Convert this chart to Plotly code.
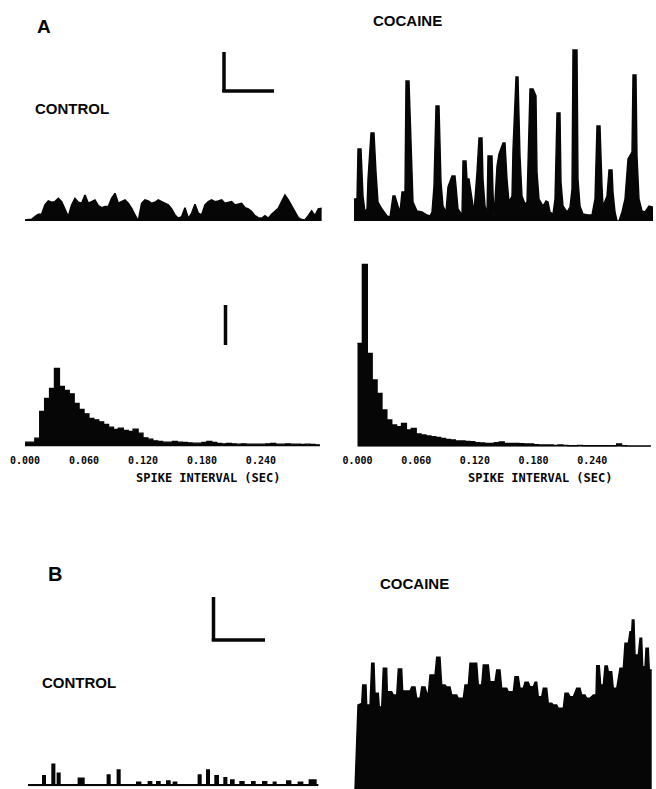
import plotly.graph_objects as go

W, H = 656, 789

# ---------------- data ----------------
# A, control: firing-rate histogram (counts per bin, arbitrary units)
ctrlA_rate = [3, 4, 5, 13, 20, 20, 48, 60, 56, 58,
              68, 58, 33, 13, 48, 68, 56, 53, 78, 53,
              58, 63, 46, 40, 43, 43, 68, 83, 53, 58,
              63, 53, 38, 18, 0, 53, 63, 60, 53, 56,
              63, 58, 53, 48, 36, 18, 8, 13, 40, 8,
              23, 50, 23, 18, 48, 58, 63, 58, 60, 63,
              53, 56, 58, 48, 50, 53, 40, 36, 28, 16,
              10, 8, 16, 8, 20, 30, 38, 58, 78, 63,
              46, 26, 10, 4, 3, 16, 30, 16, 36, 38]

# A, cocaine: firing-rate record (time, count)
cocA_t = [4, 7, 8, 11, 13, 15, 17, 18, 21, 24, 26, 28, 32, 37, 40, 43, 45, 47, 48, 50,
          52, 55, 56, 59, 62, 63, 67, 72, 77, 80, 82, 84, 86, 89, 91, 93, 96, 98, 102, 105,
          106, 108, 112, 113, 116, 117, 119, 122, 124, 127, 129, 132, 133, 135, 137, 138, 142, 143, 144, 147,
          149, 153, 155, 157, 159, 162, 163, 166, 168, 170, 172, 175, 177, 180, 183, 186, 187, 189, 193, 196,
          198, 200, 203, 205, 207, 210, 211, 213, 217, 220, 222, 223, 227, 228, 230, 233, 238, 242, 245, 247,
          250, 252, 253, 257, 259, 262, 263, 265, 267, 269, 272, 275, 278, 282, 283, 286, 287, 289, 292, 295,
          297, 299, 302, 303]
cocA_v = [22, 22, 72, 72, 25, 9, 12, 42, 88, 88, 49, 19, 12, 5, 4, 25, 25, 17, 15, 9,
          29, 29, 140, 140, 55, 19, 10, 9, 6, 5, 9, 35, 115, 115, 39, 15, 9, 34, 45, 45,
          35, 12, 6, 60, 60, 42, 42, 22, 9, 49, 83, 83, 42, 15, 7, 65, 65, 29, 3, 55,
          67, 78, 78, 42, 19, 25, 72, 144, 144, 65, 25, 17, 19, 132, 132, 125, 49, 22, 15, 20,
          19, 9, 7, 22, 108, 108, 39, 15, 9, 14, 32, 171, 171, 42, 15, 7, 6, 6, 22, 95,
          95, 35, 15, 25, 51, 51, 29, 9, 0, 0, 9, 22, 62, 69, 146, 146, 65, 22, 10, 9,
          12, 15, 14, 14]

# Interval histograms: 5 ms bins from 0.000 to 0.300 s
bin_w = 0.005
ctrlA_isi = [13, 13, 25, 105, 144, 174, 234, 180, 168, 158,
             129, 111, 98, 84, 80, 74, 66, 58, 51, 55,
             48, 45, 52, 40, 26, 22, 17, 15, 13, 13,
             15, 13, 12, 11, 10, 10, 12, 15, 12, 9,
             8, 9, 8, 7, 8, 7, 7, 7, 7, 8,
             9, 7, 7, 8, 7, 7, 6, 7, 6, 5]
cocA_isi = [310, 547, 280, 200, 160, 110, 80, 65, 60, 70,
            50, 55, 38, 35, 32, 30, 28, 25, 22, 20,
            17, 17, 16, 15, 12, 11, 10, 10, 12, 14,
            10, 10, 10, 9, 8, 8, 6, 5, 5, 5,
            4, 5, 4, 3, 3, 4, 3, 3, 3, 3,
            3, 3, 3, 8, 3, 2, 2, 2, 2, 2]
isi_ticks = [0.0, 0.06, 0.12, 0.18, 0.24]
isi_ticktext = ["0.000", "0.060", "0.120", "0.180", "0.240"]

# B, control: step record (change times, levels)
ctrlB_t = [0, 14.7, 17.3, 24, 26.7, 29.3, 32, 50.3, 56, 79.3, 82, 89.3, 92, 108.7, 112.7,
           120.3, 123.7, 128.7, 132, 138.7, 142, 145.3, 148.7, 170.3, 173, 178.7, 181.3,
           187, 190.3, 196, 198.7, 202.7, 206, 212, 216, 223.7, 227, 234.7, 238.7, 245.3,
           248, 258.7, 262.7, 270.3, 274.7, 281.3, 288, 290.3]
ctrlB_v = [1.7, 10.7, 1.7, 22, 1.7, 13, 1.7, 8, 1.7, 11.3, 1.7, 16.3, 1.7, 4, 1.7,
           4.7, 1.7, 4.7, 1.7, 5.3, 1.7, 4, 1.7, 11.3, 1.7, 16.3, 1.7,
           10.7, 1.7, 8.7, 1.7, 6.3, 1.7, 4.7, 1.7, 4.7, 1.7, 4.7, 1.7, 4,
           1.7, 5.3, 1.7, 4, 1.7, 6.3, 1.7, 1.7]

# B, cocaine: firing-rate record (time, count)
cocB_t = [5, 8, 11.7, 12.7, 16, 16.7, 20, 21.7, 24, 25, 28.3, 29.3, 31.7, 33.3, 36.7, 37.3, 41.7, 43.3, 46.7, 48.3,
          51.7, 52.7, 60, 61.7, 65, 66.7, 70, 71.7, 75, 76.7, 78.3, 80, 85, 86.7, 90, 91.7, 95, 96.7, 100, 101.7,
          106.7, 108.3, 113.3, 115, 118.3, 120, 126.7, 128.3, 131.7, 133.3, 138.3, 140, 145, 146.7, 150, 151.7, 156.7, 158.3, 163.3, 165,
          168.3, 170, 173.3, 175, 178.3, 180, 183.3, 185, 186.7, 188.3, 191.7, 193.3, 196.7, 198.3, 201.7, 203.3, 206.7, 208.3, 213.3, 215,
          218.3, 220, 223.3, 226.7, 230, 231.7, 235, 236.7, 240, 243.3, 246, 246.7, 249.3, 250.7, 253.3, 255, 257.3, 258.3, 261.7, 263.3,
          266.7, 270, 273.3, 275, 278.3, 280, 281.7, 282.3, 284, 285, 288.3, 290, 291.7, 292.7, 295, 296, 298.3, 299.3, 301.7]
cocB_v = [20, 104, 105.7, 124, 124, 104, 104, 145.7, 145.7, 115.7, 115.7, 102, 102, 140.7, 140.7, 117.3, 117.3, 114, 114, 140,
          140, 118, 118, 122, 122, 110.7, 110.7, 122, 122, 115.7, 115.7, 134, 134, 151.7, 151.7, 124, 124, 122, 122, 114,
          114, 110.7, 110.7, 124, 124, 145.7, 145.7, 124, 124, 144, 144, 127.3, 127.3, 139, 139, 120.7, 120.7, 117.3, 117.3, 132.3,
          132.3, 120.7, 120.7, 126.7, 126.7, 122.3, 122.3, 126.7, 126.7, 112.3, 112.3, 120.7, 120.7, 105.7, 105.7, 104, 104, 100.7, 100.7, 115.7,
          115.7, 112.3, 112.3, 120.7, 120.7, 114, 114, 110.7, 110.7, 114, 114, 143.3, 143.3, 124, 124, 143, 143, 137.3, 137.3, 120.7,
          120.7, 140.7, 140.7, 165.7, 165.7, 177.3, 177.3, 189, 189, 154, 154, 170.7, 170.7, 142.3, 142.3, 160.7, 160.7, 139, 139]

# ---------------- helpers ----------------
def px_x(p):
    return p / W

def px_y(p):
    return 1 - p / H

INK = "#060606"
fig = go.Figure()

# panel 1: A control rate
fig.add_trace(go.Scatter(x=list(range(len(ctrlA_rate))), y=ctrlA_rate, mode="lines",
                         line=dict(color=INK, width=1.6), fill="tozeroy", fillcolor=INK,
                         xaxis="x", yaxis="y", hoverinfo="skip"))
# panel 2: A cocaine rate
fig.add_trace(go.Scatter(x=cocA_t, y=cocA_v, mode="lines",
                         line=dict(color=INK, width=1.4), fill="tozeroy", fillcolor=INK,
                         xaxis="x2", yaxis="y2", hoverinfo="skip"))
# panels 3/4: interval histograms (step)
def edges(vals):
    xs = [i * bin_w for i in range(len(vals))] + [len(vals) * bin_w]
    ys = list(vals) + [vals[-1]]
    return xs, ys

x3, y3 = edges(ctrlA_isi)
fig.add_trace(go.Scatter(x=x3, y=y3, mode="lines", line_shape="hv",
                         line=dict(color=INK, width=1.4), fill="tozeroy", fillcolor=INK,
                         xaxis="x3", yaxis="y3", hoverinfo="skip"))
x4, y4 = edges(cocA_isi)
fig.add_trace(go.Scatter(x=x4, y=y4, mode="lines", line_shape="hv",
                         line=dict(color=INK, width=1.4), fill="tozeroy", fillcolor=INK,
                         xaxis="x4", yaxis="y4", hoverinfo="skip"))
# panel 5: B control rate
fig.add_trace(go.Scatter(x=ctrlB_t, y=ctrlB_v, mode="lines", line_shape="hv",
                         line=dict(color=INK, width=1.4), fill="tozeroy", fillcolor=INK,
                         xaxis="x5", yaxis="y5", hoverinfo="skip"))
# panel 6: B cocaine rate
fig.add_trace(go.Scatter(x=cocB_t, y=cocB_v, mode="lines",
                         line=dict(color=INK, width=1.4), fill="tozeroy", fillcolor=INK,
                         xaxis="x6", yaxis="y6", hoverinfo="skip"))

hidden = dict(visible=False, showgrid=False, zeroline=False, fixedrange=True, automargin=False)

def xax(p0, p1, r, anchor, **kw):
    d = dict(hidden, domain=[px_x(p0), px_x(p1)], range=r, anchor=anchor)
    d.update(kw)
    return d

def yax(pbottom, ptop, r, anchor):
    return dict(hidden, domain=[px_y(pbottom), px_y(ptop)], range=r, anchor=anchor)

tickstyle = dict(visible=True, showline=False, ticks="", showticklabels=True,
                 tickvals=isi_ticks, ticktext=isi_ticktext, ticklabelstandoff=6,
                 tickfont=dict(family="Liberation Sans Narrow, DejaVu Sans Mono", size=10,
                               color=INK, weight="bold"))

fig.update_layout(
    template="none",
    width=W, height=H, margin=dict(l=0, r=0, t=0, b=0, pad=0, autoexpand=False),
    paper_bgcolor="white", plot_bgcolor="rgba(0,0,0,0)", showlegend=False,
    xaxis=xax(23.3, 323.3, [-0.5, 89.5], "y"),
    yaxis=yax(221, 185, [0, 108], "x"),
    xaxis2=xax(350, 656, [0, 306], "y2"),
    yaxis2=yax(221, 40, [0, 181], "x2"),
    xaxis3=xax(20, 325, [-5 / 983, 300 / 983], "y3", **tickstyle),
    yaxis3=yax(446.5, 355, [0, 274.5], "x3"),
    xaxis4=xax(350, 656, [-7.5 / 978, 298.5 / 978], "y4", **tickstyle),
    yaxis4=yax(446.7, 255, [0, 575], "x4"),
    xaxis5=xax(20, 330, [-8, 302], "y5"),
    yaxis5=yax(786.3, 745, [0, 41.3], "x5"),
    xaxis6=xax(350, 656, [0, 306], "y6"),
    yaxis6=yax(789, 605, [20, 204], "x6"),
)

# ---------------- text ----------------
def label(txt, cx, cy, size, family="Liberation Sans", bold=True):
    fig.add_annotation(text=txt, x=px_x(cx), y=px_y(cy), xref="paper", yref="paper",
                       showarrow=False, xanchor="center", yanchor="middle",
                       font=dict(family=family, size=size, color=INK,
                                 weight="bold" if bold else "normal"))

label("A", 43.5, 26, 19)
label("CONTROL", 71.5, 108, 15)
label("COCAINE", 407.5, 20.5, 15)
label("SPIKE INTERVAL (SEC)", 208, 477.5, 12, family="DejaVu Sans Mono")
label("SPIKE INTERVAL (SEC)", 540, 477.5, 12, family="DejaVu Sans Mono")
label("B", 55, 574, 20)
label("CONTROL", 79, 682, 15)
label("COCAINE", 414.5, 583, 15)

# ---------------- scale bars ----------------
def seg(x0, y0, x1, y1, w=3.5):
    fig.add_shape(type="line", xref="paper", yref="paper",
                  x0=px_x(x0), y0=px_y(y0), x1=px_x(x1), y1=px_y(y1),
                  line=dict(color=INK, width=w))

seg(224, 52, 224, 92)
seg(222.3, 91, 274, 91)
seg(225.5, 305, 225.5, 345)
seg(213.5, 597, 213.5, 641)
seg(211.8, 640, 265, 640)

fig.write_html("out.html")
